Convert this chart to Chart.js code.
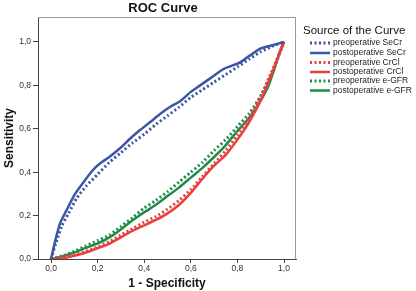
<!DOCTYPE html>
<html>
<head>
<meta charset="utf-8">
<script src="https://cdn.jsdelivr.net/npm/chart.js@4/dist/chart.umd.min.js"></script>
<style>
html,body{margin:0;padding:0;background:#fff;}
canvas{display:block;}
</style>
</head>
<body>
<canvas id="c" width="416" height="291"></canvas>
<script>
const chartTitle = "ROC Curve";
const xTitle = "1 - Specificity";
const yTitle = "Sensitivity";
const legendTitle = "Source of the Curve";
const tickValues = [0, 0.2, 0.4, 0.6, 0.8, 1.0];

const seriesLabels = ["preoperative SeCr","postoperative SeCr","preoperative CrCl","postoperative CrCl","preoperative e-GFR","postoperative e-GFR"];

const preSeCr = [[0,0],[0.02,0.07],[0.045,0.15],[0.075,0.21],[0.11,0.28],[0.15,0.335],[0.2,0.39],[0.25,0.445],[0.3,0.49],[0.35,0.535],[0.4,0.575],[0.45,0.62],[0.5,0.66],[0.55,0.70],[0.6,0.745],[0.65,0.78],[0.7,0.815],[0.75,0.85],[0.8,0.885],[0.85,0.92],[0.9,0.955],[0.95,0.98],[1,1]];
const postSeCr = [[0,0],[0.017,0.08],[0.039,0.165],[0.067,0.226],[0.103,0.30],[0.14,0.355],[0.18,0.41],[0.21,0.44],[0.25,0.47],[0.296,0.51],[0.34,0.555],[0.382,0.594],[0.43,0.635],[0.468,0.668],[0.51,0.70],[0.554,0.727],[0.60,0.77],[0.64,0.80],[0.68,0.83],[0.74,0.875],[0.81,0.905],[0.85,0.935],[0.9,0.97],[0.95,0.985],[1,1]];
const preCrCl = [[0,0],[0.05,0.01],[0.1,0.02],[0.15,0.035],[0.2,0.055],[0.25,0.08],[0.3,0.11],[0.35,0.14],[0.4,0.17],[0.45,0.195],[0.5,0.23],[0.55,0.27],[0.6,0.32],[0.65,0.38],[0.7,0.44],[0.75,0.5],[0.8,0.57],[0.85,0.65],[0.9,0.75],[0.95,0.87],[1,1]];
const postCrCl = [[0,0],[0.04,0.0],[0.1,0.015],[0.15,0.03],[0.2,0.05],[0.25,0.07],[0.3,0.1],[0.34,0.125],[0.4,0.155],[0.45,0.18],[0.5,0.21],[0.55,0.25],[0.6,0.305],[0.65,0.37],[0.7,0.43],[0.75,0.48],[0.8,0.55],[0.85,0.63],[0.9,0.73],[0.95,0.86],[1,1]];
const preEGFR = [[0,0],[0.05,0.015],[0.1,0.035],[0.15,0.06],[0.2,0.085],[0.25,0.11],[0.3,0.15],[0.35,0.19],[0.4,0.235],[0.45,0.27],[0.5,0.31],[0.55,0.355],[0.6,0.4],[0.65,0.445],[0.7,0.5],[0.75,0.55],[0.8,0.61],[0.85,0.67],[0.9,0.75],[0.95,0.86],[1,1]];
const postEGFR = [[0,0],[0.05,0.012],[0.1,0.03],[0.146,0.05],[0.2,0.072],[0.232,0.088],[0.28,0.12],[0.34,0.17],[0.4,0.215],[0.45,0.25],[0.5,0.29],[0.55,0.33],[0.6,0.375],[0.65,0.42],[0.7,0.47],[0.75,0.525],[0.8,0.59],[0.85,0.65],[0.9,0.73],[0.93,0.79],[0.96,0.88],[0.98,0.95],[1,1]];

const BLUE = "#3c55a5", RED = "#e8403c", GREEN = "#1e8b4a";
const FONT = "'Liberation Sans', Arial, Helvetica, sans-serif";

function toPts(a){ return a.map(p => ({x:p[0], y:p[1]})); }
function ds(label, arr, color, dotted, order){
  return {label, data: toPts(arr), borderColor: color, backgroundColor: color,
    borderWidth: dotted ? 3 : 2.5, borderDash: dotted ? [2,2.5] : [], borderCapStyle:'butt',
    showLine: true, pointRadius: 0, tension: 0.2, order, fill:false};
}

const fmt = v => Number(v).toFixed(1).replace('.', ',');

const framePlugin = {
  id: 'frame',
  afterDraw(chart){
    const {ctx, chartArea:a} = chart;
    ctx.save();
    ctx.strokeStyle = '#9a9a9a'; ctx.lineWidth = 1;
    ctx.beginPath();
    ctx.moveTo(a.left, a.top + 0.5); ctx.lineTo(a.right - 0.5, a.top + 0.5); ctx.lineTo(a.right - 0.5, a.bottom);
    ctx.stroke();
    // title
    ctx.fillStyle = '#111'; ctx.font = "bold 13px " + FONT;
    ctx.textAlign = 'center'; ctx.textBaseline = 'middle';
    ctx.fillText(chartTitle, 163, 8);
    // legend
    ctx.font = "11.5px " + FONT; ctx.textAlign = 'left';
    ctx.fillStyle = '#111';
    ctx.fillText(legendTitle, 303, 31);
    const rowY = [43, 53, 62.5, 72, 81, 90.5];
    ctx.font = "8.5px " + FONT;
    chart.data.datasets.forEach((d, i) => {
      const y = rowY[i];
      ctx.strokeStyle = d.borderColor; ctx.lineWidth = d.borderWidth;
      ctx.setLineDash(d.borderDash.length ? [2,2.5] : []);
      ctx.beginPath(); ctx.moveTo(310, y); ctx.lineTo(330, y); ctx.stroke();
      ctx.setLineDash([]);
      ctx.fillStyle = '#222';
      ctx.fillText(d.label, 333, y);
    });
    ctx.restore();
  }
};

new Chart(document.getElementById('c'), {
  type: 'scatter',
  data: { datasets: [
    ds(seriesLabels[0], preSeCr, BLUE, true, 2),
    ds(seriesLabels[1], postSeCr, BLUE, false, 1),
    ds(seriesLabels[2], preCrCl, RED, true, 4),
    ds(seriesLabels[3], postCrCl, RED, false, 3),
    ds(seriesLabels[4], preEGFR, GREEN, true, 6),
    ds(seriesLabels[5], postEGFR, GREEN, false, 5)
  ]},
  options: {
    responsive: false, animation: false, devicePixelRatio: 1,
    layout: { padding: { left: 0, top: 17, right: 120, bottom: 0 } },
    plugins: { legend: { display: false }, tooltip: { enabled: false }, title: { display: false } },
    scales: {
      x: { type: 'linear', min: -0.056, max: 1.0515,
        afterBuildTicks: s => { s.ticks = tickValues.map(v => ({value: v})); },
        afterFit: s => { s.height = 32; },
        grid: { drawOnChartArea: false, drawTicks: true, tickLength: 4, color: '#444' },
        border: { display: true, color: '#444', width: 1 },
        ticks: { callback: v => fmt(v), font: { family: FONT, size: 8.5 }, color: '#333', padding: 1, maxRotation: 0, autoSkip: false },
        title: { display: true, text: xTitle, font: { family: FONT, size: 12, weight: 'bold' }, color: '#111', padding: { top: 0, bottom: 0 } }
      },
      y: { type: 'linear', min: 0, max: 1.115,
        afterBuildTicks: s => { s.ticks = tickValues.map(v => ({value: v})); },
        afterFit: s => { s.width = 38; },
        grid: { drawOnChartArea: false, drawTicks: true, tickLength: 5, color: '#444' },
        border: { display: true, color: '#444', width: 1 },
        ticks: { callback: v => fmt(v), font: { family: FONT, size: 8.5 }, color: '#333', padding: 2, autoSkip: false },
        title: { display: true, text: yTitle, font: { family: FONT, size: 12, weight: 'bold' }, color: '#111', padding: { top: 2, bottom: 0 } }
      }
    }
  },
  plugins: [framePlugin]
});
</script>
</body>
</html>
